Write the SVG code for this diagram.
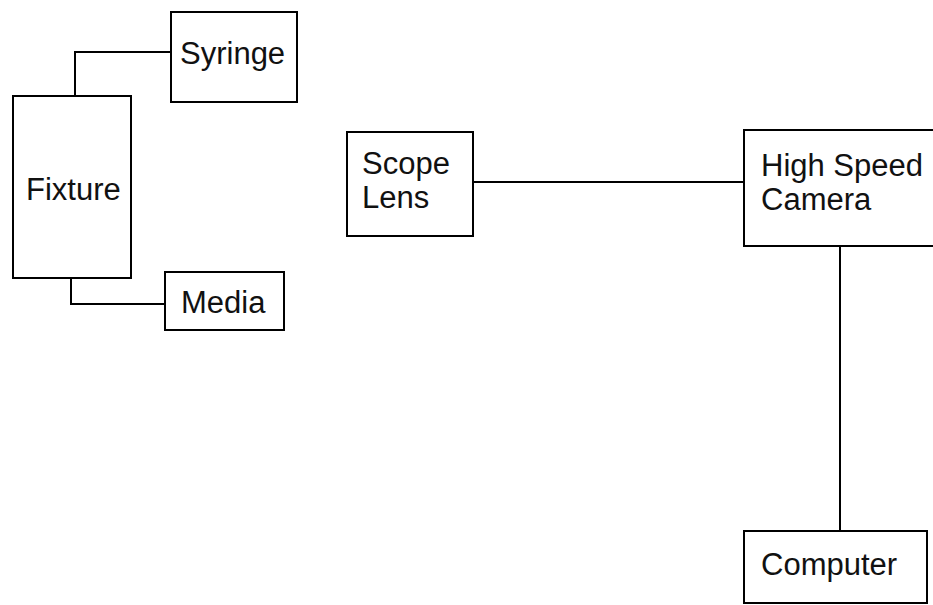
<svg xmlns="http://www.w3.org/2000/svg" width="933" height="605" viewBox="0 0 933 605">
<style>
.box{fill:#fff;stroke:#000;stroke-width:2}
.ln{fill:none;stroke:#000;stroke-width:2}
text{font-family:"Liberation Sans",Arial,sans-serif;font-size:31px;fill:#111}
</style>
<rect width="933" height="605" fill="#fff"/>
<g id="connectors">
<polyline class="ln" points="75,96 75,52 171,52"/>
<polyline class="ln" points="71,278 71,304 165,304"/>
<line class="ln" x1="473" y1="182" x2="744" y2="182"/>
<line class="ln" x1="840" y1="246" x2="840" y2="531"/>
</g>
<g id="syringe"><rect class="box" x="171" y="12" width="126" height="90"/><text x="180" y="64">Syringe</text></g>
<g id="fixture"><rect class="box" x="13" y="96" width="118" height="182"/><text x="26" y="200">Fixture</text></g>
<g id="media"><rect class="box" x="165" y="272" width="119" height="58"/><text x="181" y="313">Media</text></g>
<g id="scope-lens"><rect class="box" x="347" y="132" width="126" height="104"/><text x="362" y="174">Scope</text><text x="362" y="208">Lens</text></g>
<g id="camera"><rect class="box" x="744" y="130" width="196" height="116"/><text x="761" y="176">High Speed</text><text x="761" y="210">Camera</text></g>
<g id="computer"><rect class="box" x="744" y="531" width="183" height="72"/><text x="761" y="575">Computer</text></g>
</svg>
